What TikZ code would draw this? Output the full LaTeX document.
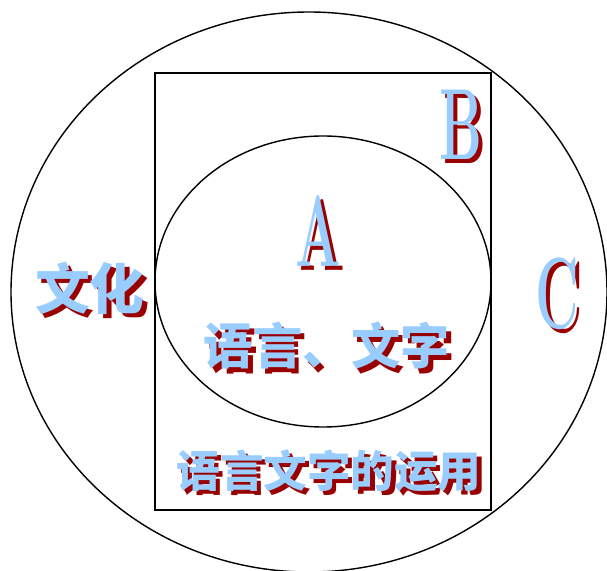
\documentclass[tikz,border=0pt]{standalone}
\usepackage{fontspec}
\newfontfamily\cjk{Noto Sans CJK SC}[BoldFont={Noto Sans CJK SC Black}]
\definecolor{lightblue}{HTML}{99CCFF}
\definecolor{darkred}{HTML}{990000}
\tikzset{
    shadowed/.style={inner sep=0pt},
    hanzi/.style={font=\cjk\bfseries\fontsize{#1}{#1}\selectfont},
    letter/.style={font=\bfseries\fontsize{72}{72}\selectfont},
}
% text with a dark red shadow below right
\newcommand{\shadowtext}[1]{%
    \rlap{\kern3pt\raisebox{-3pt}{\textcolor{darkred}{#1}}}\textcolor{lightblue}{#1}}
\begin{document}
\begin{tikzpicture}[x=0.025cm, y=-0.025cm, line width=1pt]
    \useasboundingbox (0,0) rectangle (607,571);

    % Outer circle, box and inner circle
    \draw (309,292) ellipse [x radius=298, y radius=280];
    \draw (155,73) rectangle (491,510);
    \draw (323,281.5) ellipse [x radius=168, y radius=145.5];

    % Letters
    \node[shadowed, letter] (a) at (318,233) {\shadowtext{\scalebox{0.53}[1]{A}}};
    \node[shadowed, letter] (b) at (461,127) {\shadowtext{\scalebox{0.53}[1]{B}}};
    \node[shadowed, letter] (c) at (557,296) {\shadowtext{\scalebox{0.53}[1]{C}}};

    % Words
    \node[shadowed, hanzi=39] (culture) at (90,290) {\shadowtext{文化}};
    \node[shadowed, hanzi=35] (language) at (327,348) {\shadowtext{语言、文字}};
    \node[shadowed, hanzi=31] (usage) at (329,473) {\shadowtext{语言文字的运用}};
\end{tikzpicture}
\end{document}
